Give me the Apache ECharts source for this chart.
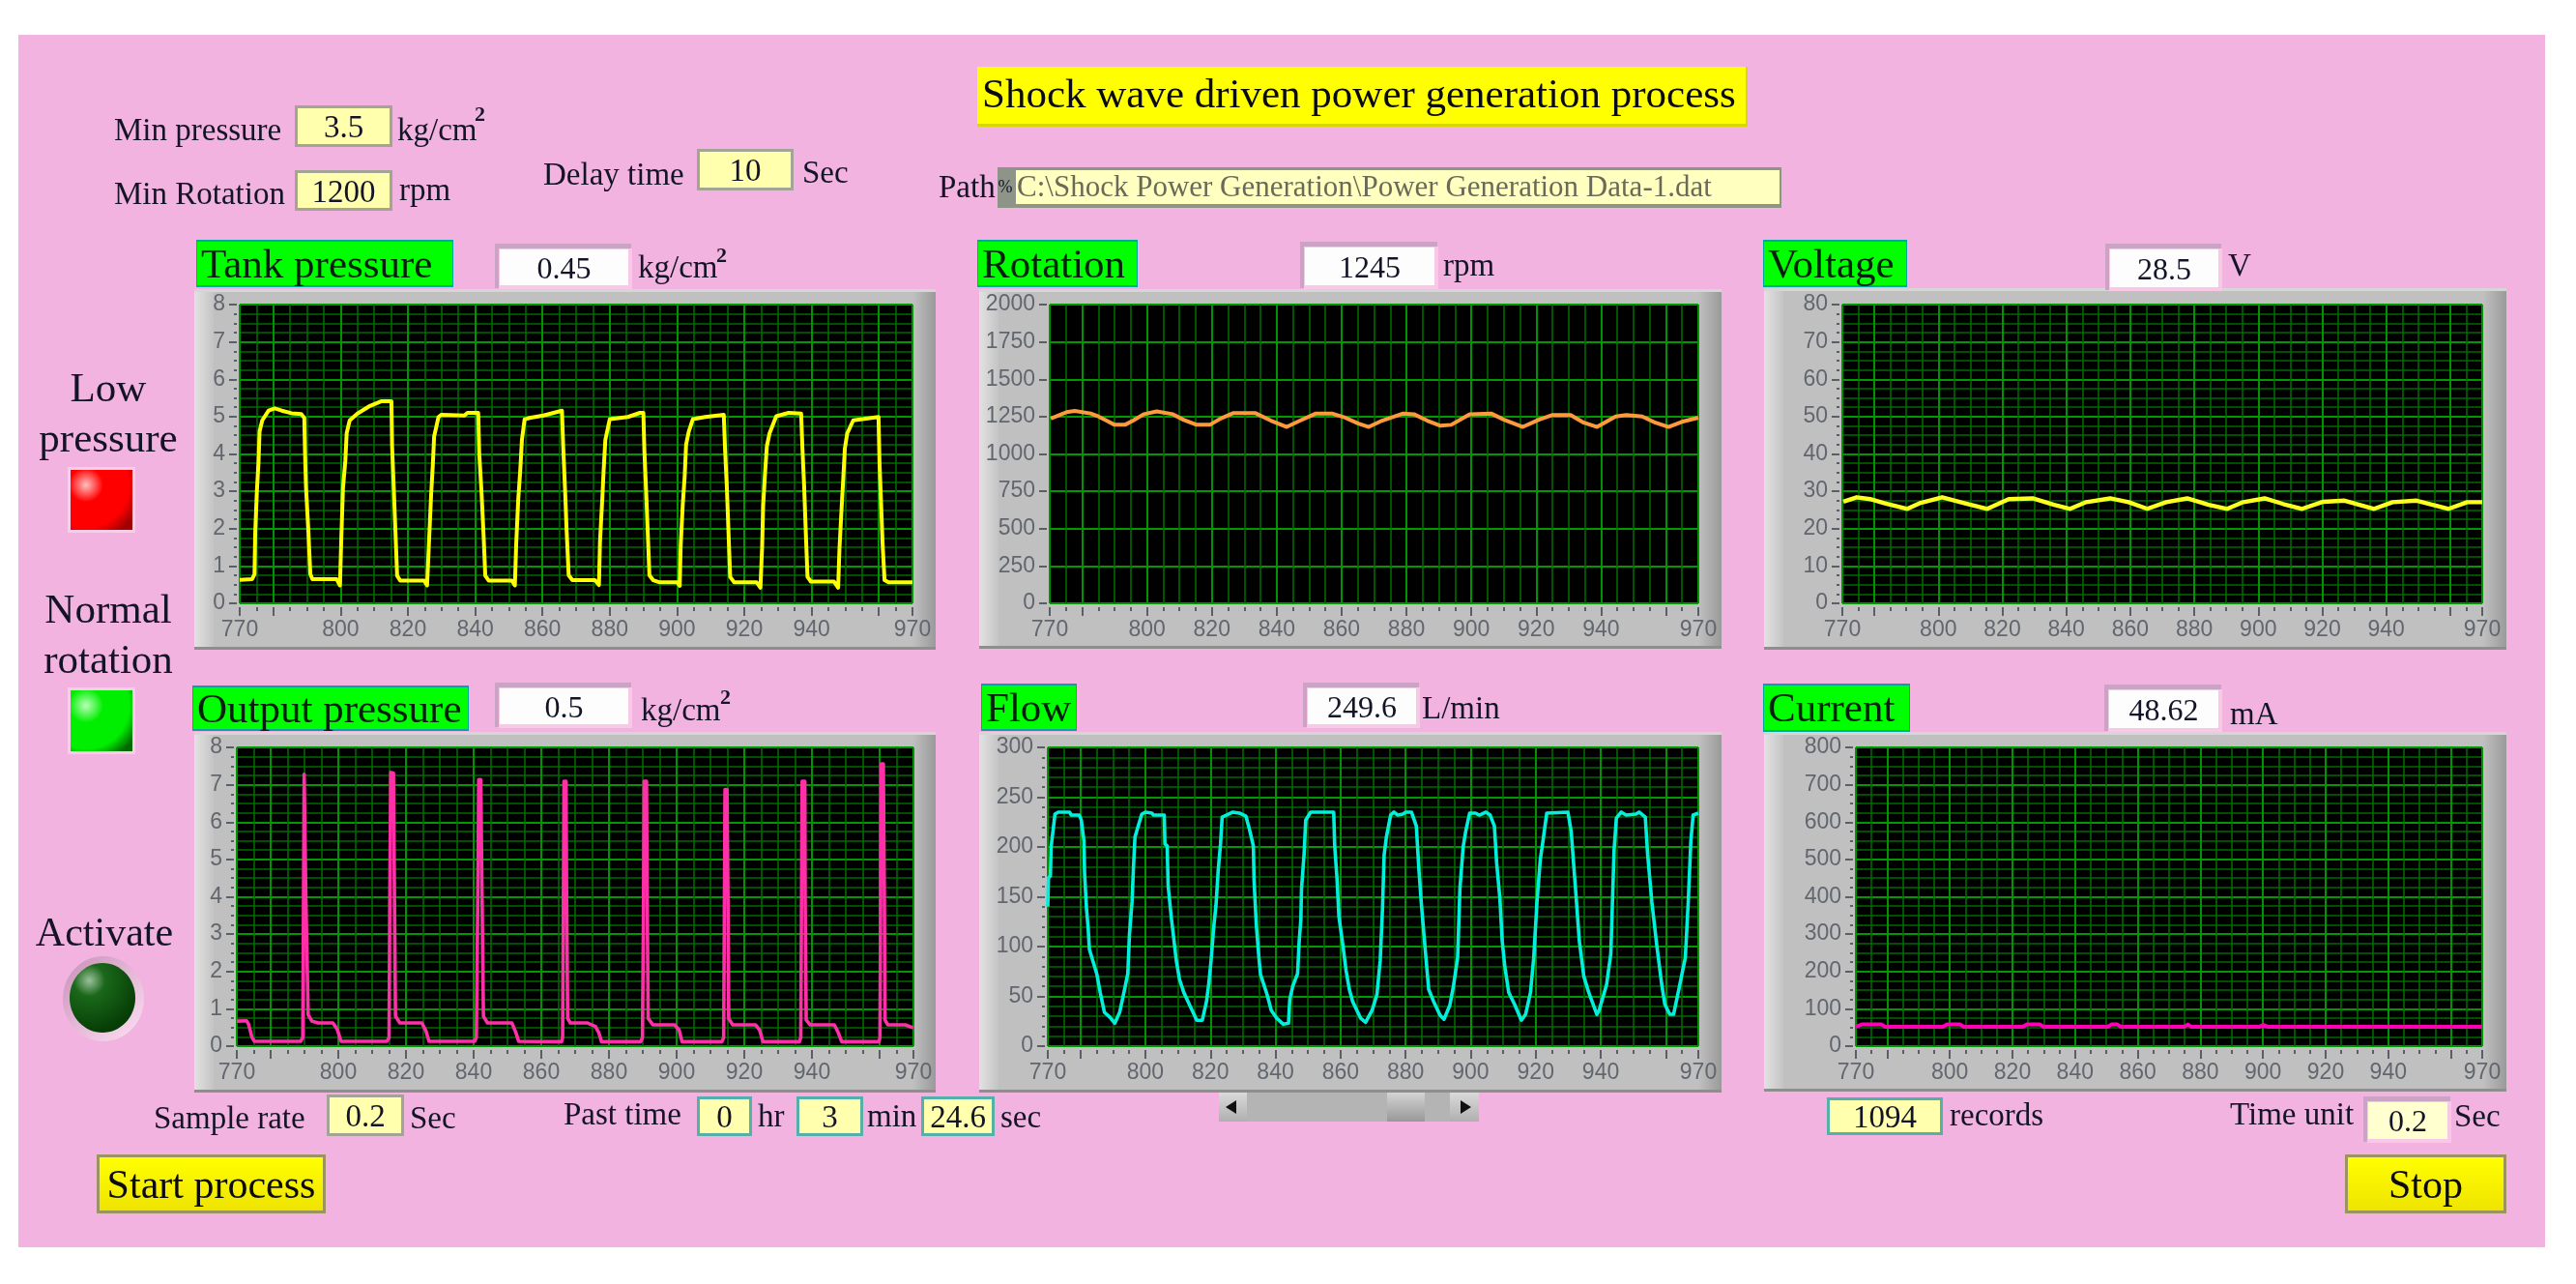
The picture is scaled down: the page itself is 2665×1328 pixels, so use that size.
<!DOCTYPE html>
<html>
<head>
<meta charset="utf-8">
<title>Shock wave driven power generation process</title>
<script src="https://cdn.jsdelivr.net/npm/echarts@6/dist/echarts.min.js"></script>
<style>
html, body { margin: 0; padding: 0; background: #fff; }
#main { width: 2665px; height: 1328px; filter: blur(0.7px); }
</style>
</head>
<body>
<div id="main"></div>
<script>
// values
var xMajorTicks = [770, 780, 800, 820, 840, 860, 880, 900, 920, 940, 960, 970];
var xTickLabels = [770, 800, 820, 840, 860, 880, 900, 920, 940, 970];

var tankX = [770,773.7,774.4,774.6,775.1,775.6,775.9,776.7,778.6,780.4,782.5,785.4,788.3,789.2,789.4,789.7,790.4,791,791.6,798.8,799.8,
    800.2,800.7,801.4,801.8,802.7,805,808.4,812,815.1,815.3,815.8,816.3,816.8,817.7,824.8,825.7,
    826.3,826.9,827.4,827.8,829.1,830,836.8,837.7,840.9,841.2,841.9,842.5,843,844,850.9,851.8,
    852.2,852.8,853.4,853.9,854.7,856.5,860.3,865.8,866,866.2,866.7,867.2,867.8,868.9,875.6,876.8,
    877.1,877.8,878.2,878.7,880,885.4,889,890,890.3,890.8,891.3,891.8,892.9,894.9,900.1,900.8,
    901.1,901.7,902.3,902.7,903.5,904.7,908.4,913.9,914.1,914.3,914.8,915.3,915.8,917,923.7,924.8,
    925.3,925.6,926.1,926.7,927.5,929.5,933.2,936.9,937.1,937.3,937.8,938.3,938.8,939.8,946.7,947.9,
    948.3,948.9,949.4,949.9,950.6,952.4,959.9,960.2,960.7,961.1,961.7,962.9,970];
var tankY = [0.63,0.65,0.78,1.87,3,3.8,4.6,4.9,5.16,5.22,5.16,5.09,5.07,4.96,4.08,3.12,1.95,0.78,0.65,0.65,0.48,
    1.73,3.08,3.82,4.56,4.9,5.08,5.27,5.41,5.41,4.2,3.08,1.91,0.74,0.61,0.61,0.48,
    1.69,2.9,3.69,4.47,4.99,5.05,5.03,5.1,5.1,4.03,2.95,1.82,0.74,0.61,0.61,0.48,
    1.6,2.78,3.56,4.38,4.93,4.97,5.03,5.16,5.16,4.12,3.08,1.92,0.75,0.62,0.62,0.49,
    1.64,2.82,3.58,4.38,4.93,4.99,5.1,5.1,4.08,3.04,1.9,0.75,0.62,0.56,0.56,0.47,
    1.55,2.63,3.43,4.25,4.6,4.93,4.99,5.05,5.05,4.09,3.14,1.92,0.71,0.56,0.56,0.42,
    1.5,2.59,3.38,4.2,4.55,5.01,5.1,5.08,5.08,4.12,3.13,1.87,0.71,0.58,0.58,0.42,
    1.47,2.5,3.3,4.15,4.55,4.9,4.99,3.77,2.61,1.62,0.62,0.56,0.56];

var outputX = [770,772.9,773.5,774.5,775.2,788.9,789.5,789.7,789.9,790.3,790.4,790.8,791.1,792.2,794.1,798.4,799.7,800.8,
    814.4,815,815.2,815.5,816.3,816.6,816.9,818.2,824.7,825.9,826.8,
    840.3,840.8,841.2,841.5,842.1,842.5,842.9,844.1,851.3,852.5,853.3,
    866,866.3,866.5,866.7,867.3,867.5,867.8,868.6,873.7,876,877,877.8,
    889.4,889.9,890.2,890.4,891.1,891.3,891.6,893,899.4,900.7,901.6,
    913.4,913.9,914.1,914.3,914.9,915.2,915.4,916.6,923.3,924.5,925.5,
    936.3,936.7,936.9,937.1,937.9,938,938.3,939.5,946.6,947.6,948.8,
    959.8,960.1,960.3,960.5,961.1,961.4,961.6,962.4,967.6,970];
var outputY = [0.67,0.68,0.58,0.23,0.13,0.13,0.23,3.69,7.28,7.28,4.04,4,0.84,0.67,0.62,0.62,0.45,0.13,
    0.13,0.23,3.74,7.33,7.31,4.04,0.8,0.62,0.62,0.41,0.13,
    0.13,0.23,3.65,7.14,7.14,3.95,0.8,0.62,0.62,0.36,0.13,
    0.12,0.23,3.59,7.09,7.09,3.89,0.74,0.62,0.62,0.53,0.36,0.12,
    0.12,0.23,3.59,7.09,7.09,3.89,0.74,0.57,0.57,0.44,0.12,
    0.12,0.23,3.46,6.87,6.87,3.77,0.74,0.57,0.57,0.44,0.12,
    0.12,0.23,3.59,7.09,7.09,3.85,0.7,0.57,0.57,0.4,0.12,
    0.12,0.23,3.85,7.56,7.56,4.07,0.7,0.57,0.57,0.49];

var rotationX = [770.3,772,775.2,777.7,782.6,785,787.5,790,793.2,795.7,799,803,808,811.2,815.3,819.4,822.7,826.7,833.3,838.2,843.1,847.2,
    852.1,857,861.1,865.2,868.4,872.5,879,882.3,886.4,890.5,893.8,899.5,906.1,910.1,915.9,920.8,924.9,930.6,934.7,938.8,
    944.5,947.8,952.7,956.8,960.8,964.9,970];
var rotationY = [1237,1251,1280,1288,1271,1251,1223,1195,1195,1223,1266,1285,1266,1229,1195,1195,1237,1274,1274,1223,1181,1223,
    1271,1271,1243,1203,1181,1223,1271,1266,1223,1189,1195,1266,1271,1229,1181,1229,1260,1260,1209,1181,
    1251,1260,1251,1209,1181,1215,1243];

var flowX = [770,770.2,770.8,771,771.7,772.2,773.2,776.7,777.2,779.7,780.3,781.1,781.3,781.9,782.4,782.8,785.1,786.1,787.4,789.1,790.6,
    792.1,793.6,794.6,795.1,795.9,796.3,796.8,797.6,798.9,800,802,802.5,805.8,806,806.7,807,808,808.8,809.5,810.5,811.8,813.5,815.8,817.5,
    818.8,819.5,820.2,821,821.7,822.4,823.1,823.6,824.9,826.9,828.9,830.9,831.9,833.2,833.4,834.1,834.9,835.4,837.4,838.7,840.4,842.4,844,
    844.4,845.3,846.8,847.3,847.8,848,848.8,849.3,850.8,857.9,858.2,858.9,859.5,860.7,861.7,862.7,863.7,866.2,867.7,
    869.7,871.2,872.2,872.9,873.4,874.1,875.4,876.4,877.6,879.1,880.1,881.8,883.3,884.1,884.8,885.8,887.1,888.6,890.6,891.8,
    893.6,894.7,896,896.7,897.7,898.5,899.7,901.5,902.7,904.7,906,907.3,908,909,909.7,910.5,911.7,913.5,915.6,
    916.9,918.4,919.4,920.4,921.4,922.4,923.4,929.9,930.9,932.4,933.4,934.8,936.3,938.8,
    939.5,941.8,943.1,944.1,944.8,946.3,947.8,950.8,951.8,953.7,954.4,955.7,957.2,958.7,959.7,961.2,962.4,
    964.2,966,966.9,967.7,968.4,970];
var flowY = [140,169,171,200,219,233,235,235,232,232,227,206,174,138,119,97,72,54,34,29,23,
    34,57,73,112,145,177,210,219,233,235,234,232,232,203,201,161,128,106,86,67,54,42,26,26,
    45,63,86,119,141,177,203,230,232,235,234,231,219,201,167,122,89,72,52,36,28,22,23,
    47,60,73,106,127,158,193,227,235,235,201,169,130,102,76,57,45,28,24,
    36,52,86,138,192,210,232,235,232,233,235,235,221,177,145,106,57,45,31,27,
    41,60,89,158,200,216,234,234,232,235,232,221,184,148,106,80,54,42,26,
    32,54,89,145,187,210,234,235,216,151,106,70,54,32,
    36,62,93,197,229,235,232,233,235,230,193,145,102,63,42,32,32,
    60,89,145,206,232,234];

var voltageX = [770.3,774.5,778.7,782.8,787,790.3,794.5,801.2,807.8,815.3,822,829.5,836.2,841.2,846.2,853.7,859.5,865.3,871.2,877.8,884.5,890.3,
    895.3,902,907.8,913.7,920.3,927,936.2,942,949.5,959.5,965.3,970];
var voltageY = [27.2,28.4,27.9,26.9,26,25.3,26.9,28.4,26.9,25.3,27.9,28.1,26.4,25.3,27.1,28.1,27.1,25.3,27.1,28.1,26.4,25.3,
    27.1,28.1,26.6,25.3,27.2,27.5,25.3,27.1,27.5,25.3,27.1,27.1];

var currentX = [770,771.9,778.2,779.4,797.7,799.1,803.2,804.5,823.2,824.6,828.7,830,850.4,851.6,853.5,854.7,874.8,876,877.1,898.9,900.1,901.5,970];
var currentY = [52,58,58,52,52,58,58,52,52,58,58,52,52,58,58,52,52,58,52,52,57,52,52];

// layout of the six graphs
var panels = [
    {x: tankX, y: tankY, color: '#ffff00', width: 4, max: 8, major: 1, minor: 0.25,
        frame: [201, 299, 968, 672], plot: [248, 315, 944, 624]},
    {x: rotationX, y: rotationY, color: '#ff9a3c', width: 4, max: 2000, major: 250, minor: 250,
        frame: [1013, 299, 1781, 671], plot: [1086, 315, 1757, 624]},
    {x: voltageX, y: voltageY, color: '#ffff20', width: 4.4, max: 80, major: 10, minor: 2.5,
        frame: [1825, 298, 2593, 672], plot: [1906, 315, 2568, 624]},
    {x: outputX, y: outputY, color: '#ff2fa8', width: 3.6, max: 8, major: 1, minor: 0.25,
        frame: [201, 757, 968, 1130], plot: [245, 773, 945, 1082]},
    {x: flowX, y: flowY, color: '#00f0dc', width: 3.6, max: 300, major: 50, minor: 10,
        frame: [1013, 757, 1781, 1130], plot: [1084, 773, 1757, 1082]},
    {x: currentX, y: currentY, color: '#ff00b4', width: 4, max: 800, major: 100, minor: 25,
        frame: [1825, 757, 2593, 1129], plot: [1920, 773, 2568, 1082]}
];

var SERIF = '"Liberation Serif", serif';
var SANS = '"Liberation Sans", sans-serif';
var gfx = [];

function rect(x0, y0, x1, y1, fill) {
    gfx.push({
        type: 'rect', z: -10, silent: true,
        shape: {x: x0, y: y0, width: x1 - x0, height: y1 - y0},
        style: {fill: fill}
    });
}
function text(x, y, str, size, opt) {
    opt = opt || {};
    gfx.push({
        type: 'text', z: -5, silent: true, x: x, y: y + 3,
        style: {
            text: str, fill: opt.fill || '#141428',
            font: (opt.weight || 'normal') + ' ' + size + 'px ' + SERIF,
            textAlign: opt.align || 'left', textVerticalAlign: 'middle'
        }
    });
}
function grad(x2, y2, c0, c1) {
    return new echarts.graphic.LinearGradient(0, 0, x2, y2, [{offset: 0, color: c0}, {offset: 1, color: c1}]);
}
// pale yellow control, value centred
function control(x0, y0, x1, y1, str, edge) {
    rect(x0, y0, x1, y1, edge || '#a3a396');
    rect(x0 + 3, y0 + 3, x1 - 3, y1 - 3, '#ffffae');
    text((x0 + x1) / 2, (y0 + y1) / 2, str, 33, {align: 'center'});
}
// indicator sunk in the panel
function indicator(x0, y0, x1, y1, str, fill) {
    rect(x0 - 5, y0 - 6, x1 + 3, y1 + 3, '#cba3c4');
    rect(x0 - 1, y0 - 1, x1 + 4, y1 + 4, '#f8c8e6');
    rect(x0, y0, x1, y1, fill || '#fdfdfd');
    text((x0 + x1) / 2, (y0 + y1) / 2, str, 32, {align: 'center'});
}
function greenLabel(x0, y0, x1, y1, str) {
    rect(x0, y0, x1, y1, '#00a6a0');
    rect(x0 + 1, y0 + 2, x1 - 1, y1 - 2, '#00ff00');
    text(x0 + 5, (y0 + y1) / 2, str, 43, {fill: '#04200c'});
}
function button(x0, y0, x1, y1, str) {
    rect(x0, y0, x1, y1, '#9c9460');
    rect(x0 + 3, y0 + 3, x1 - 3, y1 - 3, grad(0, 1, '#ffff00', '#efe400'));
    text((x0 + x1) / 2, (y0 + y1) / 2, str, 42, {align: 'center', fill: '#0c0c10'});
}
function led(x0, y0, x1, y1, c0, c1, c2) {
    rect(x0 - 3, y0 - 3, x1 + 3, y1 + 3, '#f8cdea');
    rect(x0, y0, x1, y1, new echarts.graphic.RadialGradient(0.25, 0.25, 0.95, [
        {offset: 0, color: c0}, {offset: 0.3, color: c1}, {offset: 0.75, color: c1}, {offset: 1, color: c2}
    ]));
}

// background panel
rect(19, 36, 2633, 1290, '#f3b3e1');

// title and settings
rect(1011, 69, 1808, 131, '#d8d800');
rect(1011, 69, 1806, 128, '#ffff00');
text(1016, 97, 'Shock wave driven power generation process', 43, {fill: '#0a0a14'});

text(118, 133, 'Min pressure', 33);
control(305, 109, 406, 152, '3.5');
text(411, 133, 'kg/cm', 33);
text(491, 116, '2', 22, {weight: 'bold'});
text(118, 199, 'Min Rotation', 33);
control(305, 176, 406, 218, '1200');
text(413, 195, 'rpm', 33);
text(562, 179, 'Delay time', 33);
control(721, 154, 821, 197, '10');
text(830, 177, 'Sec', 33);
text(971, 192, 'Path', 33);
rect(1032, 173, 1049, 215, '#8e9488');
text(1040, 191, '%', 18, {align: 'center'});
rect(1049, 173, 1843, 215, '#8e9488');
rect(1051, 176, 1841, 211, '#ffffc0');
text(1052, 192, 'C:\\Shock Power Generation\\Power Generation Data-1.dat', 31, {fill: '#6a6a58'});

// graph frames
panels.forEach(function (p) {
    var f = p.frame;
    rect(f[0], f[1], f[2], f[3], '#c0c0c0');
    rect(f[0], f[1], f[0] + 20, f[3], grad(1, 0, '#e2e2e2', '#c4c4c4'));
    rect(f[2] - 24, f[1], f[2], f[3], grad(1, 0, '#c0c0c0', '#9a9a9a'));
    rect(f[0], f[3] - 3, f[2], f[3], '#8e8e8e');
    rect(f[0], f[1], f[2], f[1] + 3, '#d6d6d6');
});

// captions and read-outs
greenLabel(203, 248, 469, 297, 'Tank pressure');
indicator(517, 258, 650, 295, '0.45');
text(660, 275, 'kg/cm', 33);
text(741, 262, '2', 22, {weight: 'bold'});

greenLabel(1011, 248, 1177, 297, 'Rotation');
indicator(1350, 256, 1484, 295, '1245');
text(1493, 273, 'rpm', 33);

greenLabel(1824, 248, 1973, 297, 'Voltage');
indicator(2183, 258, 2295, 297, '28.5');
text(2305, 273, 'V', 33);

greenLabel(199, 709, 485, 756, 'Output pressure');
indicator(517, 712, 650, 749, '0.5');
text(663, 733, 'kg/cm', 33);
text(745, 719, '2', 22, {weight: 'bold'});

greenLabel(1015, 707, 1114, 756, 'Flow');
indicator(1353, 712, 1465, 749, '249.6');
text(1471, 731, 'L/min', 33);

greenLabel(1824, 707, 1976, 757, 'Current');
indicator(2182, 714, 2295, 753, '48.62');
text(2307, 737, 'mA', 33);

// lamps
text(112, 401, 'Low', 43, {align: 'center'});
text(112, 453, 'pressure', 43, {align: 'center'});
led(73, 486, 137, 548, '#ffc0c0', '#ff0000', '#a00000');
text(112, 630, 'Normal', 43, {align: 'center'});
text(112, 682, 'rotation', 43, {align: 'center'});
led(73, 714, 137, 777, '#b8ffb8', '#00ee00', '#006a00');
text(108, 964, 'Activate', 42, {align: 'center'});
gfx.push({type: 'ellipse', z: -9, silent: true, shape: {cx: 107, cy: 1033, rx: 42, ry: 44},
    style: {fill: grad(1, 1, '#c890b8', '#ffe0f4')}});
gfx.push({type: 'ellipse', z: -8, silent: true, shape: {cx: 106, cy: 1032, rx: 34, ry: 36},
    style: {fill: new echarts.graphic.RadialGradient(0.3, 0.25, 0.8, [
        {offset: 0, color: '#9cc09c'}, {offset: 0.3, color: '#1a681a'}, {offset: 1, color: '#063c06'}
    ])}});

// bottom row
text(159, 1155, 'Sample rate', 33);
control(338, 1132, 418, 1175, '0.2');
text(424, 1155, 'Sec', 33);
text(583, 1151, 'Past time', 33);
control(721, 1134, 778, 1175, '0', '#55b0a8');
text(784, 1153, 'hr', 33);
control(824, 1134, 893, 1175, '3', '#55b0a8');
text(897, 1153, 'min', 33);
control(953, 1134, 1029, 1175, '24.6', '#55b0a8');
text(1035, 1154, 'sec', 33);
button(100, 1194, 337, 1255, 'Start process');
control(1890, 1135, 2010, 1174, '1094', '#55b0a8');
text(2017, 1152, 'records', 33);
text(2307, 1151, 'Time unit', 33);
indicator(2450, 1140, 2532, 1178, '0.2', '#ffffd0');
text(2539, 1153, 'Sec', 33);
button(2426, 1194, 2593, 1255, 'Stop');

// scrollbar under the flow graph
rect(1261, 1130, 1530, 1160, '#b4b4b4');
rect(1261, 1130, 1290, 1160, grad(0, 1, '#dadada', '#b0b0b0'));
rect(1500, 1130, 1530, 1160, grad(0, 1, '#dadada', '#b0b0b0'));
rect(1435, 1130, 1474, 1160, grad(0, 1, '#d4d4d4', '#989898'));
gfx.push({type: 'polygon', z: -8, silent: true, shape: {points: [[1268, 1145], [1279, 1138], [1279, 1152]]}, style: {fill: '#101010'}});
gfx.push({type: 'polygon', z: -8, silent: true, shape: {points: [[1522, 1145], [1511, 1138], [1511, 1152]]}, style: {fill: '#101010'}});

// axes
var DIM = '#006a00', BRIGHT = '#009a00', TICK = '#5a5e66';
var grids = [], xAxes = [], yAxes = [], seriesList = [];

panels.forEach(function (p, i) {
    var b = p.plot;
    grids.push({
        left: b[0], top: b[1], width: b[2] - b[0], height: b[3] - b[1],
        show: true, backgroundColor: '#000', borderColor: '#4c4c4c', borderWidth: 1
    });
    xAxes.push({
        type: 'value', gridIndex: i, position: 'bottom', offset: 4, min: 770, max: 970, interval: 5,
        axisLine: {show: false, onZero: false},
        axisTick: {length: 4, lineStyle: {color: TICK, width: 2}},
        axisLabel: {show: false},
        splitLine: {lineStyle: {color: DIM, width: 1.6}}
    });
    xAxes.push({
        type: 'value', gridIndex: i, position: 'bottom', offset: 4, min: 770, max: 970,
        axisLine: {show: false, onZero: false},
        axisTick: {length: 9, customValues: xMajorTicks, lineStyle: {color: TICK, width: 2}},
        axisLabel: {customValues: xTickLabels, margin: 12, color: '#62666e', fontSize: 23, fontFamily: SANS, formatter: String},
        splitLine: {lineStyle: {color: BRIGHT, width: 1.8}}
    });
    yAxes.push({
        type: 'value', gridIndex: i, position: 'left', offset: 3, min: 0, max: p.max, interval: p.minor,
        axisLine: {show: false, onZero: false},
        axisTick: {show: p.minor !== p.major, length: 3, lineStyle: {color: TICK, width: 2}},
        axisLabel: {show: false},
        splitLine: {lineStyle: {color: DIM, width: 1.6}}
    });
    yAxes.push({
        type: 'value', gridIndex: i, position: 'left', offset: 3, min: 0, max: p.max, interval: p.major,
        axisLine: {show: false, onZero: false},
        axisTick: {show: true, length: 8, lineStyle: {color: TICK, width: 2}},
        axisLabel: {margin: 12, color: '#62666e', fontSize: 23, fontFamily: SANS, formatter: String},
        splitLine: {lineStyle: {color: BRIGHT, width: 1.8}}
    });
    seriesList.push({
        type: 'line', xAxisIndex: 2 * i, yAxisIndex: 2 * i,
        data: p.x.map(function (v, k) { return [v, p.y[k]]; }),
        showSymbol: false, symbol: 'none', silent: true,
        lineStyle: {color: p.color, width: p.width, join: 'round'}
    });
});

var chart = echarts.init(document.getElementById('main'));
chart.setOption({
    animation: false,
    backgroundColor: '#ffffff',
    grid: grids,
    xAxis: xAxes,
    yAxis: yAxes,
    series: seriesList,
    graphic: {elements: gfx}
});
</script>
</body>
</html>
